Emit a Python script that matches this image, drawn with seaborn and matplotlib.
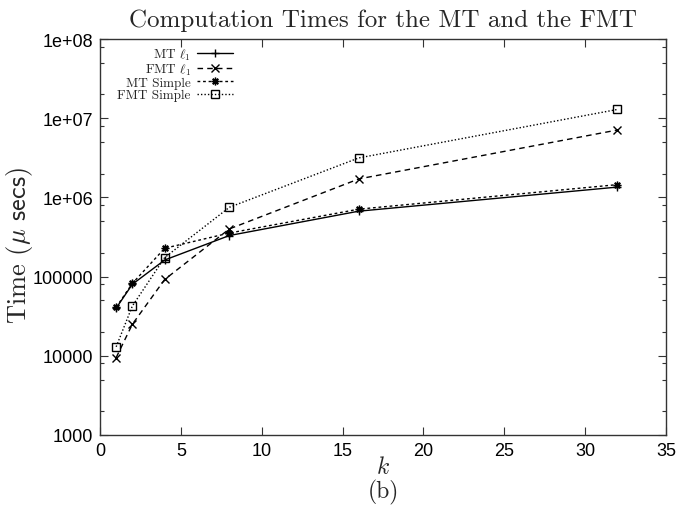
import matplotlib
matplotlib.use("Agg")
import matplotlib.pyplot as plt
import matplotlib.ticker as mticker
import seaborn as sns

# values
k = [1, 2, 4, 8, 16, 32]
mt_l1 = [40000, 80000, 162000, 330000, 670000, 1350000]
fmt_l1 = [9500, 25000, 92000, 400000, 1710000, 7100000]
mt_simple = [41000, 82000, 228000, 355000, 710000, 1450000]
fmt_simple = [13000, 42500, 174000, 750000, 3150000, 12900000]

series_names = ["MT $\\ell_1$", "FMT $\\ell_1$", "MT Simple", "FMT Simple"]
y_ticks = [1e3, 1e4, 1e5, 1e6, 1e7, 1e8]
y_tick_labels = ["1000", "10000", "100000", "1e+06", "1e+07", "1e+08"]
x_ticks = [0, 5, 10, 15, 20, 25, 30, 35]

sns.set_style("ticks")
plt.rcParams["mathtext.fontset"] = "cm"
plt.rcParams["axes.unicode_minus"] = False

fig = plt.figure(figsize=(6.89, 5.06), dpi=100)
ax = fig.add_axes([100 / 689, 1 - 436 / 506, 566 / 689, 396 / 506])

styles = [
    (mt_l1, "+", None),
    (fmt_l1, "x", (4, 3)),
    (mt_simple, (8, 2, 0), (2, 2)),
    (fmt_simple, "s", (1, 1.5)),
]
for (vals, mk, dash), name in zip(styles, series_names):
    kws = dict(x=k, y=vals, color="black", marker=mk, markersize=5.5,
               mfc="none", mec="black", mew=1.0, linewidth=1.0,
               label=name, ax=ax, legend=False)
    if dash is not None:
        kws["dashes"] = dash
    sns.lineplot(**kws)

ax.set_yscale("log")
ax.set_xlim(0, 35)
ax.set_ylim(1e3, 1e8)
ax.yaxis.set_major_locator(mticker.FixedLocator(y_ticks))
ax.yaxis.set_major_formatter(mticker.FixedFormatter(y_tick_labels))
ax.yaxis.set_minor_locator(mticker.LogLocator(base=10, subs=(2, 5, 8)))
ax.yaxis.set_minor_formatter(mticker.NullFormatter())
ax.xaxis.set_major_locator(mticker.FixedLocator(x_ticks))

for s in ax.spines.values():
    s.set_linewidth(1.0)
    s.set_color("#333333")
ax.tick_params(which="both", direction="in", top=True, right=True, colors="#333333")
ax.tick_params(which="major", length=6, width=0.8, labelsize=13, pad=5)
ax.tick_params(which="minor", length=3, width=0.8)
for lab in ax.get_xticklabels() + ax.get_yticklabels():
    lab.set_family("Liberation Sans")
    lab.set_color("black")

ax.set_title("Computation Times for the MT and the FMT", family="cmr10", fontsize=18, pad=9)
ax.set_ylabel("Time ($\\mu$ $\\mathsf{secs}$)", family="cmr10", fontsize=19)
ax.yaxis.set_label_coords((35 - 100) / 566, 0.48)
ax.set_xlabel("$k$", fontsize=17)
ax.xaxis.set_label_coords(0.5, (436 - 455) / 396)
fig.text(383 / 689, 1 - 492 / 506, "(b)", family="cmr10", fontsize=17, ha="center", va="center")

leg = ax.legend(handles=ax.lines[:4], labels=series_names, loc="upper left",
                bbox_to_anchor=(0.012, 1.008), frameon=False, markerfirst=False,
                prop={"family": "cmr10", "size": 9.5}, handlelength=2.7,
                labelspacing=0.0, handletextpad=0.5, borderaxespad=0.4)

fig.savefig("out.png", dpi=100)
